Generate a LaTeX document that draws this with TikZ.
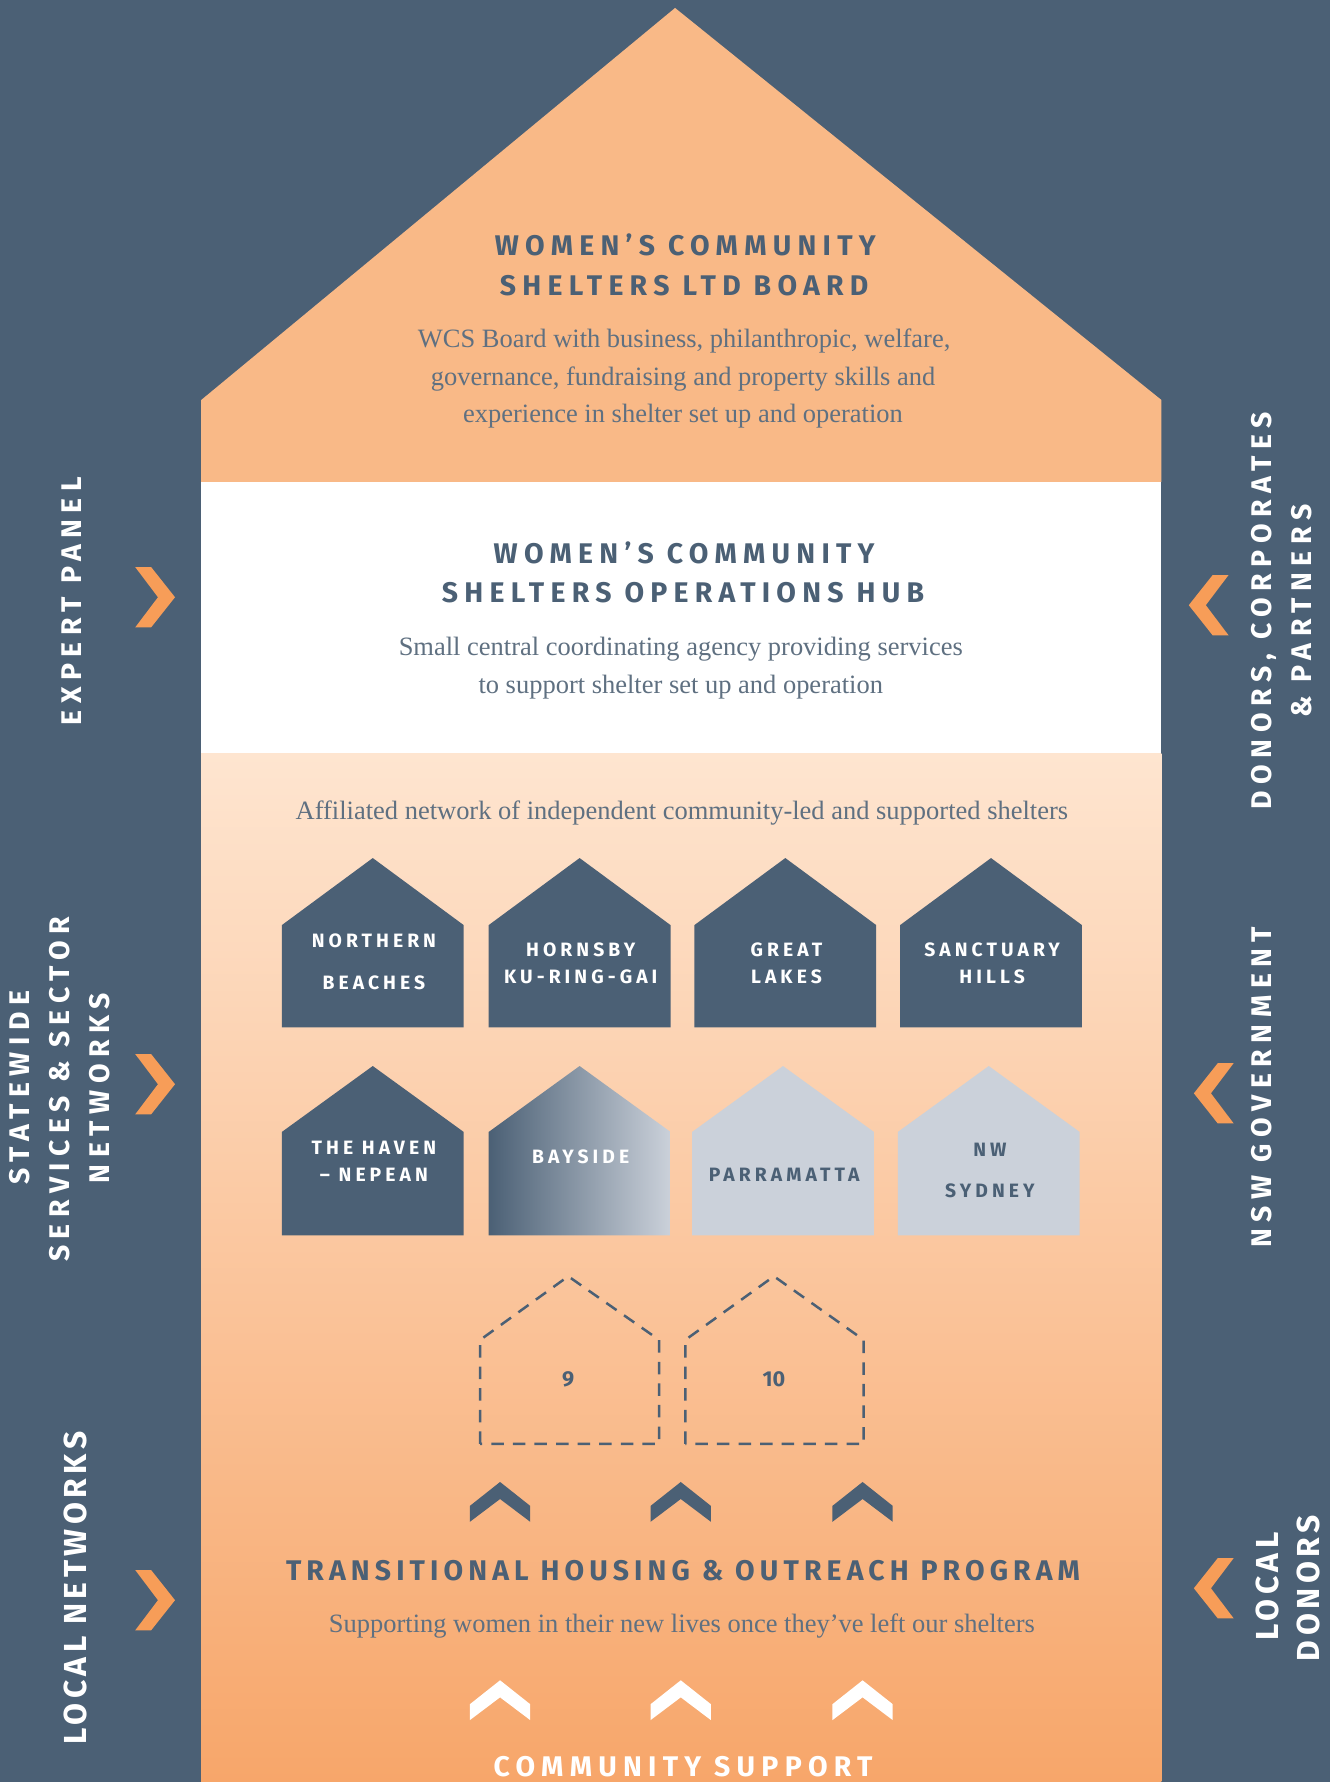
\documentclass[tikz,border=0pt]{standalone}
\usepackage{fontspec}
\setmainfont{Liberation Serif}
\newfontfamily\hdfont{Fira Sans}
\definecolor{slate}{HTML}{4B6075}
\definecolor{roofc}{HTML}{F9B987}
\definecolor{gradtop}{HTML}{FEE5D0}
\definecolor{gradbot}{HTML}{F7A66A}
\definecolor{lightsh}{HTML}{CBD1DA}
\definecolor{chevor}{HTML}{F79D58}
\definecolor{txtgray}{HTML}{5F7081}
\newcommand\shelter[5]{\path[#1] (#2,#5) -- (#2,#4) -- ({#2+80},#3) -- ({#2+160},#4) -- ({#2+160},#5) -- cycle;}
\newcommand\chevR[3]{\begin{scope}[shift={(#1,#2)}]\fill[#3] (-17.5,-26.5) -- (-3.5,-26.5) -- (17.5,0) -- (-3.5,26.5) -- (-17.5,26.5) -- (2.5,0) -- cycle;\end{scope}}
\newcommand\chevL[3]{\begin{scope}[shift={(#1,#2)}]\fill[#3] (17.5,-26.5) -- (3.5,-26.5) -- (-17.5,0) -- (3.5,26.5) -- (17.5,26.5) -- (-2.5,0) -- cycle;\end{scope}}
\newcommand\chevU[3]{\begin{scope}[shift={(#1,#2)}]\fill[#3] (-26.5,17.5) -- (-26.5,3.5) -- (0,-17.5) -- (26.5,3.5) -- (26.5,17.5) -- (0,-2.5) -- cycle;\end{scope}}
\begin{document}
\begin{tikzpicture}[x={(1pt,0pt)},y={(0pt,-1pt)},
  hd/.style={font={\hdfont\bfseries\fontsize{25}{30}\selectfont\addfontfeature{LetterSpace=22}}, text=slate, inner sep=0pt, anchor=base},
  hdt/.style={hd, font={\hdfont\bfseries\fontsize{25}{30}\selectfont\addfontfeature{LetterSpace=18}}},
  sd/.style={font={\hdfont\bfseries\fontsize{25}{30}\selectfont\addfontfeature{LetterSpace=23}}, text=white, inner sep=0pt, anchor=base, rotate=90},
  sdw/.style={sd, font={\hdfont\bfseries\fontsize{28}{30}\selectfont\addfontfeature{LetterSpace=14}}},
  hl/.style={font={\hdfont\bfseries\fontsize{17}{20}\selectfont\addfontfeature{LetterSpace=21}}, text=white, inner sep=0pt, anchor=base},
  hld/.style={hl, text=slate},
  srf/.style={font=\fontsize{23.3}{33}\selectfont, text=txtgray, inner sep=0pt, anchor=base},
  dashhouse/.style={draw=slate, line width=2.2pt, dash pattern=on 11pt off 8pt},
  num/.style={font={\hdfont\bfseries\fontsize{19}{20}\selectfont}, text=slate, inner sep=0pt, anchor=base}]
\useasboundingbox (0,0) rectangle (1170,1568);
\fill[slate] (0,0) rectangle (1170,1568);
% house body
\fill[roofc] (177,424) -- (177,352) -- (594,7) -- (1022,352) -- (1022,424) -- cycle;
\fill[white] (177,424) rectangle (1022,663);
\shade[top color=gradtop, bottom color=gradbot] (177,663) rectangle (1022,1568);
% board
\node[hd] (boardA) at (603,225.2) {WOMEN’S COMMUNITY};
\node[hd] (boardB) at (602,260.4) {SHELTERS LTD BOARD};
\node[srf] (boardC) at (602,306) {WCS Board with business, philanthropic, welfare,};
\node[srf] (boardD) at (601,339) {governance, fundraising and property skills and};
\node[srf] (boardE) at (601,372) {experience in shelter set up and operation};
% hub
\node[hd] (hubA) at (602,495.5) {WOMEN’S COMMUNITY};
\node[hd] (hubB) at (601,530.2) {SHELTERS OPERATIONS HUB};
\node[srf] (hubC) at (599,577) {Small central coordinating agency providing services};
\node[srf] (hubD) at (599,610) {to support shelter set up and operation};
\node[srf] (netA) at (600,720.7) {Affiliated network of independent community-led and supported shelters};
% shelters row 1
\shelter{fill=slate}{248}{755}{814}{904}
\shelter{fill=slate}{430}{755}{814}{904}
\shelter{fill=slate}{611}{755}{814}{904}
\shelter{fill=slate}{792}{755}{814}{904}
\node[hl] (s1a) at (329,834) {NORTHERN};
\node[hl] (s1b) at (329,871) {BEACHES};
\node[hl] (s2a) at (511,841.6) {HORNSBY};
\node[hl] (s2b) at (511,865) {KU-RING-GAI};
\node[hl] (s3a) at (692,841.6) {GREAT};
\node[hl] (s3b) at (692,865) {LAKES};
\node[hl] (s4a) at (873,841.6) {SANCTUARY};
\node[hl] (s4b) at (873,865) {HILLS};
% shelters row 2
\shelter{fill=slate}{248}{938}{996}{1087}
\shelter{left color=slate, right color=lightsh}{430}{938}{996}{1087}
\shelter{fill=lightsh}{609}{938}{996}{1087}
\shelter{fill=lightsh}{790}{938}{996}{1087}
\node[hl] (s5a) at (329,1016) {THE HAVEN};
\node[hl] (s5b) at (329,1040) {– NEPEAN};
\node[hl] (s6a) at (511,1023.4) {BAYSIDE};
\node[hld] (s7a) at (690,1040) {PARRAMATTA};
\node[hld] (s8a) at (871,1017.5) {NW};
\node[hld] (s8b) at (871,1054) {SYDNEY};
% future shelters
\draw[dashhouse] (422.5,1270.5) -- (422.5,1179) -- (500,1123) -- (580,1179) -- (580,1270.5) -- cycle;
\draw[dashhouse] (603,1270.5) -- (603,1179) -- (681,1123) -- (760,1179) -- (760,1270.5) -- cycle;
\node[num] (n9) at (500,1220) {9};
\node[num] (n10) at (681,1220) {10};
% chevrons up
\chevU{440}{1321.5}{slate}
\chevU{599}{1321.5}{slate}
\chevU{759}{1321.5}{slate}
\node[hdt] (thop) at (601,1390.7) {TRANSITIONAL HOUSING \& OUTREACH PROGRAM};
\node[srf] (thopB) at (600,1436.8) {Supporting women in their new lives once they’ve left our shelters};
\chevU{440}{1496}{white}
\chevU{599}{1496}{white}
\chevU{759}{1496}{white}
\node[hd, text=white] (comm) at (601,1563.5) {COMMUNITY SUPPORT};
% left side
\node[sd] (expert) at (72,529) {EXPERT PANEL};
\node[sd] (stateA) at (26,957) {STATEWIDE};
\node[sd] (stateB) at (61,958.5) {SERVICES \& SECTOR};
\node[sd] (stateC) at (96,957.5) {NETWORKS};
\node[sdw] (localnet) at (76,1397.5) {LOCAL NETWORKS};
\chevR{136.5}{525.5}{chevor}
\chevR{136.5}{954}{chevor}
\chevR{136.5}{1408}{chevor}
% right side
\node[sd] (donA) at (1118.6,537.5) {DONORS, CORPORATES};
\node[sd] (donB) at (1154,537.5) {\& PARTNERS};
\node[sd] (nsw) at (1118.6,956.5) {NSW GOVERNMENT};
\node[sdw] (locA) at (1125,1396) {LOCAL};
\node[sdw] (locB) at (1161,1397.5) {DONORS};
\chevL{1063.5}{532.5}{chevor}
\chevL{1068}{962}{chevor}
\chevL{1068}{1397.5}{chevor}
\end{tikzpicture}
\end{document}
